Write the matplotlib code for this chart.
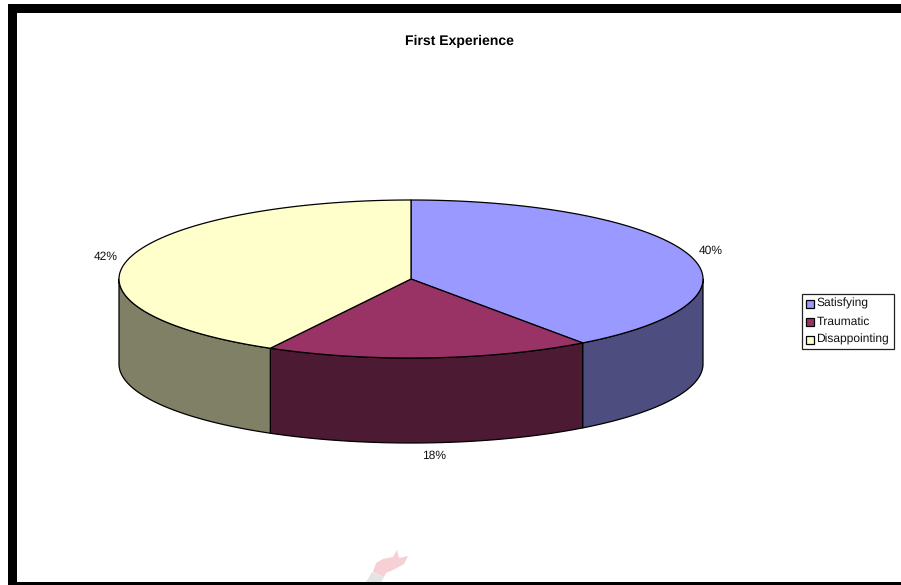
import numpy as np
import matplotlib
matplotlib.use("Agg")
import matplotlib.pyplot as plt
from matplotlib.patches import Polygon, Rectangle

labels = ["Satisfying", "Traumatic", "Disappointing"]
values = [40, 18, 42]
top_colors = ["#9999ff", "#993366", "#ffffcc"]
side_colors = ["#4d4d80", "#4d1a33", "#808066"]
title = "First Experience"

W, H = 901, 585
cx, cy = 411, 279   # pie centre in pixels
rx, ry = 292, 79
depth = 85

plt.rcParams["font.family"] = ["Liberation Sans", "DejaVu Sans"]
plt.rcParams["text.hinting"] = "no_hinting"
plt.rcParams["text.hinting_factor"] = 1

fig = plt.figure(figsize=(W / 100, H / 100), dpi=100)
ax = fig.add_axes([0, 0, 1, 1])
ax.set_xlim(0, W)
ax.set_ylim(H, 0)
ax.axis("off")


def rim(a, b):
    t = np.radians(np.linspace(a, b, 200))
    return cx + rx * np.sin(t), cy - ry * np.cos(t)


# frame
ax.add_patch(Rectangle((8, 4), 9, 578, fc="black", ec="none"))
ax.add_patch(Rectangle((8, 4), 893, 9, fc="black", ec="none"))
ax.add_patch(Rectangle((8, 582), 893, 3, fc="black", ec="none"))

fracs = np.array(values) / sum(values) * 360
starts = np.concatenate([[0], np.cumsum(fracs)[:-1]])

# sides first, only the front half of the rim shows
for a, f, c in zip(starts, fracs, side_colors):
    lo, hi = max(a, 90), min(a + f, 270)
    if hi <= lo:
        continue
    x, y = rim(lo, hi)
    pts = np.r_[np.c_[x, y], np.c_[x[::-1], y[::-1] + depth]]
    ax.add_patch(Polygon(pts, fc=c, ec="black", lw=0.9, joinstyle="round"))

# tops
for a, f, c in zip(starts, fracs, top_colors):
    x, y = rim(a, a + f)
    pts = np.r_[[[cx, cy]], np.c_[x, y]]
    ax.add_patch(Polygon(pts, fc=c, ec="black", lw=0.9, joinstyle="round"))

ax.text(459, 41.5, title, fontsize=10.1, fontweight="bold", ha="center", va="center")

# percent labels
lab_pos = [(711, 251), (434, 456), (105.5, 257)]
for v, (x, y) in zip(values, lab_pos):
    ax.text(x, y, f"{v}%", fontsize=8.5, ha="center", va="center", color="#111111")

# legend
ax.add_patch(Rectangle((802, 293.5), 91.5, 55.5, fc="white", ec="#222222", lw=0.9))
for i, (l, c) in enumerate(zip(labels, top_colors)):
    y = 303.5 + i * 18.2
    ax.add_patch(Rectangle((805.5, y - 4), 8, 8, fc=c, ec="black", lw=0.9))
    ax.text(816.5, y, l, fontsize=8.6, ha="left", va="center", color="#111111")

# faint watermark peeking above the bottom edge
ax.add_patch(Polygon([(373, 572), (376, 563), (383, 559), (393, 557), (397, 550),
                      (399, 558), (408, 556), (404, 564), (395, 569), (386, 573),
                      (384, 577)],
                     fc="#f6d0d4", ec="none"))
ax.add_patch(Polygon([(366, 582), (372, 572), (384, 577), (381, 582)],
                     fc="#e4e4e4", ec="none"))

fig.savefig("out.png", dpi=100)
